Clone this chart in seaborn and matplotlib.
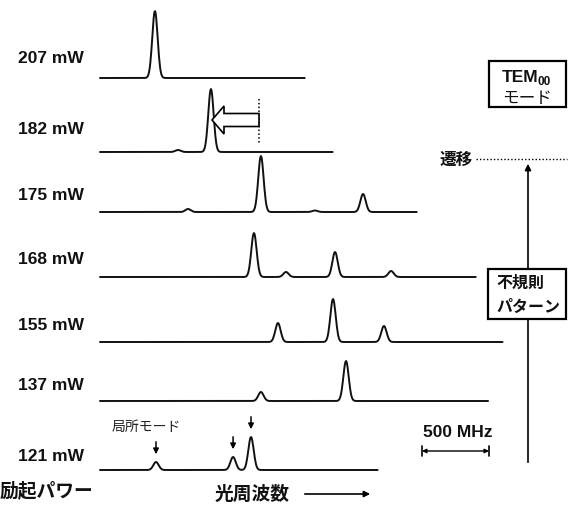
import numpy as np
import pandas as pd
import matplotlib
matplotlib.use("Agg")
import matplotlib.pyplot as plt
import seaborn as sns
from matplotlib.patches import FancyArrow, Rectangle

# Pump power of each spectrum (top to bottom)
powers = ["207 mW", "182 mW", "175 mW", "168 mW", "155 mW", "137 mW", "121 mW"]
# Mode centre frequencies (MHz, relative) and heights (arb. units)
peak_freqs = [
    [410],
    [582, 828],
    [657, 1201, 1604, 1963],
    [1149, 1388, 1754, 2172],
    [1328, 1739, 2119],
    [1201, 1836],
    [418, 993, 1127],
]
peak_heights = [
    [67],
    [2, 63],
    [3, 56, 1.5, 18],
    [44, 5, 25, 6],
    [19, 43, 16],
    [9, 40],
    [8, 13, 33],
]
# Scan range end of each trace (MHz)
scan_end = [1530, 1739, 2366, 2806, 3007, 2896, 2075]
peak_sigma = 20.0  # MHz
scale_bar_mhz = 500

# ---- layout helpers (pixel layout -> plot coordinates) ----
W, H = 569, 506
PX_PER_MHZ = 67 / 500


def fx(px):
    return (px - 100) / PX_PER_MHZ


def fy(py):
    return H - py


baselines_px = [79, 153, 213, 278, 343, 402, 471]
label_y_px = [58, 129, 195, 259, 326, 386, 457]

rows = []
for name, cents, hts, end, base in zip(powers, peak_freqs, peak_heights, scan_end, baselines_px):
    f = np.arange(0, end + 1, 4.0)
    s = np.zeros_like(f)
    for c, h in zip(cents, hts):
        s += h * np.exp(-0.5 * ((f - c) / peak_sigma) ** 2)
    rows.append(pd.DataFrame({"freq": f, "y": fy(base) + s, "power": name}))
df = pd.concat(rows, ignore_index=True)

sns.set_theme(style="white")
fig = plt.figure(figsize=(W / 100, H / 100), dpi=100)
ax = fig.add_axes([0, 0, 1, 1])
ax.set_xlim(fx(0), fx(W))
ax.set_ylim(0, H)
ax.axis("off")

sns.lineplot(data=df, x="freq", y="y", units="power", estimator=None, sort=False,
             color="#111111", linewidth=1.4, legend=False, ax=ax)

latin = ["Liberation Sans", "DejaVu Sans"]
cjk = ["Noto Sans CJK JP", "DejaVu Sans"]

for name, ly in zip(powers, label_y_px):
    ax.text(fx(18), fy(ly), name, family=latin, weight="bold", fontsize=12.5,
            ha="left", va="center", color="#111111")

# axis titles
ax.text(fx(0), fy(491), "励起パワー", family=cjk, weight="bold", fontsize=13.5,
        ha="left", va="center", color="#111111")
ax.text(fx(215), fy(494), "光周波数", family=cjk, weight="bold", fontsize=13.5,
        ha="left", va="center", color="#111111")
ax.annotate("", xy=(fx(373), fy(495)), xytext=(fx(302), fy(495)),
            arrowprops=dict(arrowstyle="-|>", lw=1.2, color="black", mutation_scale=9))

# local-mode markers on the lowest trace
ax.text(fx(112), fy(427), "局所モード", family=cjk, fontsize=10, ha="left", va="center",
        color="#222222")
base121 = fy(baselines_px[-1])
for c, h in zip(peak_freqs[-1], peak_heights[-1]):
    top = base121 + h
    ax.annotate("", xy=(c, top + 5), xytext=(c, top + 23),
                arrowprops=dict(arrowstyle="-|>", lw=1.1, color="black", mutation_scale=8))

# frequency shift at 182 mW
ax.plot([1190, 1190], [fy(100), fy(145)], color="black", lw=1.1, ls=(0, (1, 1.5)))
ax.add_patch(FancyArrow(fx(259), fy(121), fx(212) - fx(259), 0, width=13, head_width=28,
                        head_length=12 / PX_PER_MHZ, length_includes_head=True,
                        fc="white", ec="black", lw=1.2, zorder=5))

# regime axis on the right
ax.annotate("", xy=(fx(528), fy(162)), xytext=(fx(528), fy(466)),
            arrowprops=dict(arrowstyle="-|>", lw=1.2, color="black", mutation_scale=9))
ax.text(fx(439), fy(160), "遷移", family=cjk, weight="bold", fontsize=12,
        ha="left", va="center", color="#111111")
ax.plot([fx(476), fx(567)], [fy(160), fy(160)], color="black", lw=1.0, ls=(0, (1, 1.5)))

ax.add_patch(Rectangle((fx(489), fy(108)), fx(566) - fx(489), 46, fc="white", ec="black",
                       lw=1.6, zorder=4))
ax.text(fx(502), fy(77), "TEM", family=latin, weight="bold", fontsize=12.5,
        ha="left", va="center", color="#111111", zorder=6)
ax.text(fx(538), fy(82), "00", family=latin, weight="bold", fontsize=8.5,
        ha="left", va="center", color="#111111", zorder=6)
ax.text(fx(527), fy(98), "モード", family=cjk, fontsize=12,
        ha="center", va="center", color="#111111", zorder=6)

ax.add_patch(Rectangle((fx(488), fy(320)), fx(566) - fx(488), 50, fc="white", ec="black",
                       lw=1.6, zorder=4))
ax.text(fx(496), fy(283), "不規則", family=cjk, weight="bold", fontsize=11.5,
        ha="left", va="center", color="#111111", zorder=6)
ax.text(fx(496), fy(307), "パターン", family=cjk, weight="bold", fontsize=11.5,
        ha="left", va="center", color="#111111", zorder=6)

# frequency scale bar
x0 = fx(422)
ax.text(x0 + scale_bar_mhz / 2 + 2 / PX_PER_MHZ, fy(433), f"{scale_bar_mhz} MHz",
        family=latin, weight="bold", fontsize=12.5, ha="center", va="center",
        color="#111111")
ax.annotate("", xy=(x0, fy(452)), xytext=(x0 + scale_bar_mhz, fy(452)),
            arrowprops=dict(arrowstyle="<|-|>", lw=1.0, color="black", mutation_scale=6,
                            shrinkA=0, shrinkB=0))
for xe in (x0, x0 + scale_bar_mhz):
    ax.plot([xe, xe], [fy(447), fy(457)], color="black", lw=1.2)

fig.savefig("out.png", dpi=100, facecolor="white")
